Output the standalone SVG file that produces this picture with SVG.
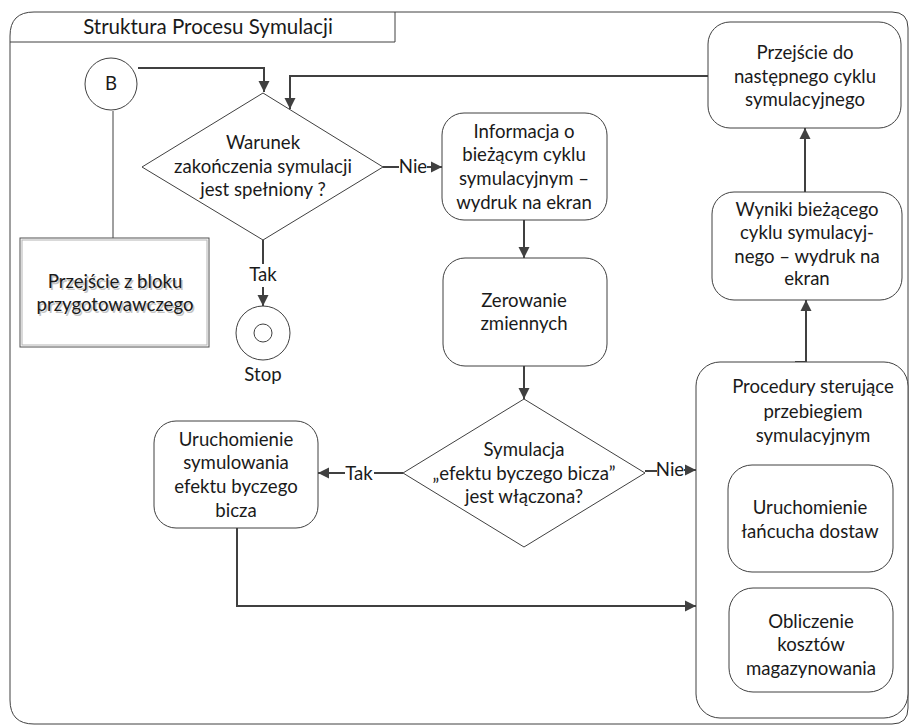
<svg xmlns="http://www.w3.org/2000/svg" width="910" height="726" viewBox="0 0 910 726">
<style>
.sh{fill:#ffffff;stroke:#404040;stroke-width:1}
.cn{fill:none;stroke:#404040;stroke-width:2}
.ln{fill:none;stroke:#404040;stroke-width:1}
text{font-family:Lato,"Open Sans","Liberation Sans",sans-serif;font-size:18.6px;fill:#1a1a1a;text-anchor:middle}
.shadow{fill:#c4c4c4}
</style>
<defs>
<marker id="ah" markerUnits="userSpaceOnUse" markerWidth="12" markerHeight="12" refX="11" refY="6" orient="auto">
<path d="M0,0.5 L11,6 L0,11.5 Z" fill="#404040"/>
</marker>
</defs>
<rect width="910" height="726" fill="#ffffff"/>
<g id="frame">
<path class="ln" d="M10,700 V36 Q10,12 34,12 H892 Q908,12 908,28 V708 Q908,724 892,724 H34 Q10,724 10,700 Z" fill="#fff"/>
<path class="ln" d="M10,42 H395 V12"/>
<text x="208" y="34" style="font-size:20.5px">Struktura Procesu Symulacji</text>
</g>
<g id="connectors">
<path class="cn" d="M138,68 H264 V92" marker-end="url(#ah)"/>
<path class="cn" d="M708,76 H290 V109" marker-end="url(#ah)"/>
<path class="ln" d="M113,111 V238"/>
<path class="cn" d="M263,240 V264"/>
<path class="cn" d="M263,287 V306" marker-end="url(#ah)"/>
<path class="cn" d="M383,167 H399"/>
<path class="cn" d="M427,167 H442" marker-end="url(#ah)"/>
<path class="cn" d="M524,220 V258" marker-end="url(#ah)"/>
<path class="cn" d="M524,366 V399" marker-end="url(#ah)"/>
<path class="cn" d="M403,473 H374"/>
<path class="cn" d="M345,473 H318" marker-end="url(#ah)"/>
<path class="cn" d="M645,471 H657"/>
<path class="cn" d="M684,470 H696" marker-end="url(#ah)"/>
<path class="cn" d="M237,528 V606 H696" marker-end="url(#ah)"/>
<path class="cn" d="M795,362 H806 V300" marker-end="url(#ah)"/>
<path class="cn" d="M805,192 V128" marker-end="url(#ah)"/>
<text x="263" y="281">Tak</text>
<text x="413" y="173">Nie</text>
<text x="359" y="480">Tak</text>
<text x="670" y="476">Nie</text>
</g>
<g id="nodeB">
<circle class="sh" cx="111" cy="84" r="26"/>
<text x="111" y="90">B</text>
</g>
<g id="nodeStart">
<rect x="20" y="238" width="189" height="109" fill="#fff" stroke="#505050" stroke-width="1"/>
<rect x="22" y="240" width="185" height="105" fill="none" stroke="#b4b4b4" stroke-width="1"/>
<text class="shadow" x="116.5" y="289.5">Przejście z bloku</text>
<text class="shadow" x="116.5" y="312.5">przygotowawczego</text>
<text x="115" y="288">Przejście z bloku</text>
<text x="115" y="311">przygotowawczego</text>
</g>
<g id="decision1">
<polygon class="sh" points="263,93 383,167 263,240 142,167"/>
<text x="263" y="149">Warunek</text>
<text x="263" y="173">zakończenia symulacji</text>
<text x="263" y="196">jest spełniony ?</text>
</g>
<g id="stop">
<circle class="sh" cx="263" cy="333" r="27"/>
<circle class="sh" cx="263" cy="333" r="9"/>
<text x="263" y="381">Stop</text>
</g>
<g id="info">
<rect class="sh" x="442" y="113" width="165" height="107" rx="22"/>
<text x="524" y="138">Informacja o</text>
<text x="524" y="161">bieżącym cyklu</text>
<text x="524" y="185">symulacyjnym –</text>
<text x="524" y="209">wydruk na ekran</text>
</g>
<g id="zerowanie">
<rect class="sh" x="443" y="258" width="164" height="108" rx="22"/>
<text x="524" y="307">Zerowanie</text>
<text x="524" y="330">zmiennych</text>
</g>
<g id="decision2">
<polygon class="sh" points="524,399 645,473 524,547 403,473"/>
<text x="524" y="456">Symulacja</text>
<text x="524" y="480">„efektu byczego bicza”</text>
<text x="524" y="503">jest włączona?</text>
</g>
<g id="bullwhip">
<rect class="sh" x="154" y="421" width="164" height="107" rx="22"/>
<text x="236" y="446">Uruchomienie</text>
<text x="236" y="469">symulowania</text>
<text x="236" y="493">efektu byczego</text>
<text x="236" y="517">bicza</text>
</g>
<g id="procedures">
<rect class="sh" x="696" y="362" width="212" height="356" rx="24"/>
<text x="813" y="393">Procedury sterujące</text>
<text x="813" y="418">przebiegiem</text>
<text x="813" y="442">symulacyjnym</text>
</g>
<g id="supplychain">
<rect class="sh" x="728" y="465" width="165" height="107" rx="24"/>
<text x="810" y="514">Uruchomienie</text>
<text x="810" y="538">łańcucha dostaw</text>
</g>
<g id="costs">
<rect class="sh" x="729" y="588" width="164" height="104" rx="24"/>
<text x="811" y="628">Obliczenie</text>
<text x="811" y="651">kosztów</text>
<text x="811" y="675">magazynowania</text>
</g>
<g id="results">
<rect class="sh" x="712" y="192" width="190" height="108" rx="22"/>
<text x="807" y="216">Wyniki bieżącego</text>
<text x="807" y="239">cyklu symulacyj-</text>
<text x="807" y="263">nego – wydruk na</text>
<text x="807" y="285">ekran</text>
</g>
<g id="next">
<rect class="sh" x="708" y="22" width="193" height="106" rx="22"/>
<text x="805" y="59">Przejście do</text>
<text x="805" y="83">następnego cyklu</text>
<text x="805" y="106">symulacyjnego</text>
</g>
</svg>
